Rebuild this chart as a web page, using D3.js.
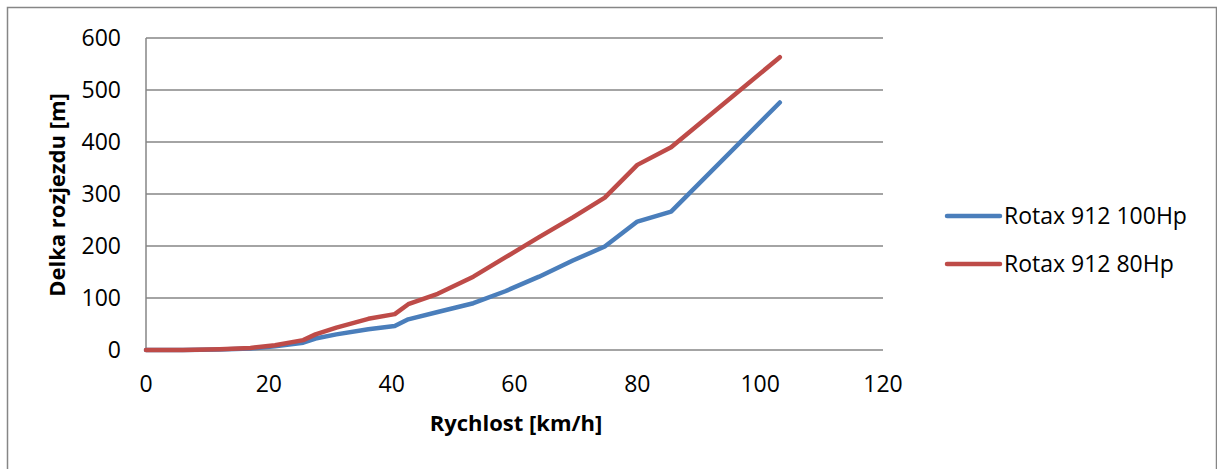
<!DOCTYPE html>
<html>
<head>
<meta charset="utf-8">
<script src="https://cdn.jsdelivr.net/npm/d3@7"></script>
<style>
  body { margin: 0; background: #fff; }
  svg { font-family: "Open Sans", "Noto Sans", sans-serif; }
</style>
</head>
<body>
<div id="chart"></div>
<script>
// chart values
const speed = [0, 6, 12, 17, 21, 25.6, 27.6, 31, 36.2, 40.5, 42.7, 47.5, 53.3, 58.5, 64, 69.5, 74.7, 80, 85.5, 103.2];
const rotax100 = [0, 0, 1, 3, 7, 14, 22, 30, 40, 46, 59, 73, 90, 113, 141, 172, 199, 247, 266, 476];
const rotax80 = [0, 0, 1.5, 4, 9, 19, 30, 43, 60, 69, 88, 108, 141, 178, 217, 255, 293, 356, 390, 563];
const seriesNames = ["Rotax 912 100Hp", "Rotax 912 80Hp"];
const xTicks = [0, 20, 40, 60, 80, 100, 120];
const yTicks = [0, 100, 200, 300, 400, 500, 600];

const W = 1217, H = 469;
const colors = ["#4a7ebb", "#be4b48"];

const svg = d3.select("#chart").append("svg")
    .attr("width", W)
    .attr("height", H);

// outer chart border
svg.append("rect")
    .attr("x", 7.5).attr("y", 7.5)
    .attr("width", 1209).attr("height", 500)
    .attr("fill", "none")
    .attr("stroke", "#868686")
    .attr("stroke-width", 1.5);

const plot = {left: 146, right: 883, top: 38, bottom: 350};

const x = d3.scaleLinear().domain([0, 120]).range([plot.left, plot.right]);
const y = d3.scaleLinear().domain([0, 600]).range([plot.bottom, plot.top]);

// gridlines
svg.append("g")
    .selectAll("line")
    .data(yTicks)
    .join("line")
    .attr("x1", plot.left).attr("x2", plot.right)
    .attr("y1", d => y(d)).attr("y2", d => y(d))
    .attr("stroke", "#868686")
    .attr("stroke-width", 1.5);

// y axis line
svg.append("line")
    .attr("x1", plot.left).attr("x2", plot.left)
    .attr("y1", plot.top).attr("y2", plot.bottom)
    .attr("stroke", "#868686")
    .attr("stroke-width", 1.5);

// y tick labels
svg.append("g")
    .selectAll("text")
    .data(yTicks)
    .join("text")
    .attr("x", 121)
    .attr("y", d => y(d))
    .attr("dy", "0.36em")
    .attr("text-anchor", "end")
    .attr("font-size", 23)
    .attr("fill", "#000")
    .text(d => d);

// x tick labels
svg.append("g")
    .selectAll("text")
    .data(xTicks)
    .join("text")
    .attr("x", d => x(d))
    .attr("y", 392)
    .attr("text-anchor", "middle")
    .attr("font-size", 23)
    .attr("fill", "#000")
    .text(d => d);

// axis titles
svg.append("text")
    .attr("x", 516).attr("y", 431)
    .attr("text-anchor", "middle")
    .attr("font-size", 22)
    .attr("font-weight", "bold")
    .text("Rychlost [km/h]");

svg.append("text")
    .attr("transform", "translate(65,195) rotate(-90)")
    .attr("text-anchor", "middle")
    .attr("font-size", 22)
    .attr("font-weight", "bold")
    .text("Delka rozjezdu [m]");

// lines
const line = d3.line()
    .x((d, i) => x(speed[i]))
    .y(d => y(d));

[rotax100, rotax80].forEach((s, k) => {
    svg.append("path")
        .datum(s)
        .attr("d", line)
        .attr("fill", "none")
        .attr("stroke", colors[k])
        .attr("stroke-width", 4.5)
        .attr("stroke-linejoin", "round")
        .attr("stroke-linecap", "round");
});

// legend
const legend = svg.append("g");
seriesNames.forEach((name, k) => {
    const ly = 216 + k * 48;
    legend.append("line")
        .attr("x1", 947).attr("x2", 1000)
        .attr("y1", ly).attr("y2", ly)
        .attr("stroke", colors[k])
        .attr("stroke-width", 4.5)
        .attr("stroke-linecap", "round");
    legend.append("text")
        .attr("x", 1004)
        .attr("y", ly)
        .attr("dy", "0.36em")
        .attr("font-size", 23)
        .text(name);
});
</script>
</body>
</html>
